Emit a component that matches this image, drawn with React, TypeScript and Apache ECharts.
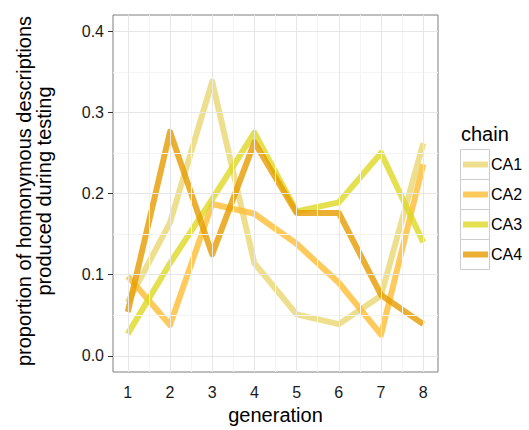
import React, { useEffect, useRef } from "react";
import * as echarts from "echarts";

const generations = [1, 2, 3, 4, 5, 6, 7, 8];
const chains = ["CA1", "CA2", "CA3", "CA4"];
const ca1 = [0.066, 0.164, 0.338, 0.114, 0.051, 0.039, 0.074, 0.262];
const ca2 = [0.098, 0.038, 0.187, 0.175, 0.138, 0.09, 0.026, 0.236];
const ca3 = [0.027, 0.114, 0.193, 0.275, 0.178, 0.189, 0.25, 0.14];
const ca4 = [0.054, 0.276, 0.125, 0.263, 0.176, 0.176, 0.075, 0.039];
const yTicks = [0, 0.1, 0.2, 0.3, 0.4];
const yMinor = [0.05, 0.15, 0.25, 0.35];
const xMinor = [1.5, 2.5, 3.5, 4.5, 5.5, 6.5, 7.5];
const colors = ["#EAD773", "#FFBD33", "#DED824", "#E69C00"];

const FONT = "Liberation Sans, Arial, sans-serif";

export default function App() {
  const ref = useRef<HTMLDivElement>(null);
  useEffect(() => {
    if (!ref.current) return;
    const chart = echarts.init(ref.current, null, { renderer: "svg" });
    const values = [ca1, ca2, ca3, ca4];
    const gridSeries = (xs: number[], ys: number[], color: string, width: number, name: string) => ({
      type: "line",
      name,
      data: [],
      z: 1,
      silent: true,
      markLine: {
        silent: true,
        symbol: "none",
        label: { show: false },
        lineStyle: { color, width, type: "solid" },
        emphasis: { disabled: true },
        data: [...xs.map((x) => ({ xAxis: x })), ...ys.map((y) => ({ yAxis: y }))],
      },
    });
    const legendTop = 149.5;
    const rowH = 30;
    const boxes = chains.map((_, i) => ({
      type: "rect",
      shape: { x: 460.5, y: legendTop + i * rowH, width: 29, height: rowH },
      style: { fill: "#fff", stroke: "#CCCCCC", lineWidth: 1 },
      z: 0,
    }));
    chart.setOption({
      animation: false,
      textStyle: { fontFamily: FONT },
      grid: { left: 113, top: 15, width: 325, height: 366, show: true, borderColor: "#7F7F7F", borderWidth: 1, backgroundColor: "transparent" },
      xAxis: {
        type: "value",
        min: 0.65,
        max: 8.35,
        name: "generation",
        nameLocation: "middle",
        nameGap: 33,
        nameTextStyle: { fontSize: 20, color: "#000", fontFamily: FONT },
        axisLine: { show: false },
        axisTick: { show: true, length: 5, lineStyle: { color: "#333" }, customValues: generations },
        axisLabel: { fontSize: 16, color: "#1a1a1a", margin: 12, customValues: generations, fontFamily: FONT },
        splitLine: { show: false },
      },
      yAxis: {
        type: "value",
        min: -0.02,
        max: 0.42,
        axisLine: { show: false },
        axisTick: { show: true, length: 5, lineStyle: { color: "#333" }, customValues: yTicks },
        axisLabel: { fontSize: 16, color: "#1a1a1a", margin: 9, customValues: yTicks, formatter: (v: number) => v.toFixed(1), fontFamily: FONT },
        splitLine: { show: false },
      },
      legend: {
        orient: "vertical",
        left: 463,
        top: legendTop,
        itemWidth: 25,
        itemHeight: 6,
        itemGap: 0,
        icon: "rect",
        data: chains,
        textStyle: { fontSize: 16, color: "#000", lineHeight: rowH, padding: [0, 0, 0, -2], fontFamily: FONT },
        padding: 0,
      },
      graphic: [
        ...boxes,
        { type: "text", left: 461, top: 124, style: { text: "chain", fontSize: 20, fill: "#000", fontFamily: FONT } },
        {
          type: "text",
          x: 34,
          y: 191,
          rotation: Math.PI / 2,
          style: {
            text: "proportion of homonymous descriptions\nproduced during testing",
            fontSize: 20,
            lineHeight: 20,
            fill: "#000",
            align: "center",
            verticalAlign: "middle",
            fontFamily: FONT,
          },
        },
      ],
      series: [
        gridSeries(xMinor, yMinor, "#F4F4F4", 1, "minorGrid"),
        gridSeries(generations, yTicks, "#E6E6E6", 1, "majorGrid"),
        ...chains.map((c, i) => ({
          type: "line",
          name: c,
          z: 2,
          data: generations.map((g, j) => [g, values[i][j]]),
          symbol: "none",
          itemStyle: { color: colors[i], opacity: 0.8 },
          lineStyle: { color: colors[i], width: 6, opacity: 0.8, cap: "butt", join: "round" },
          emphasis: { disabled: true },
        })),
      ],
    });
    return () => chart.dispose();
  }, []);
  return <div ref={ref} style={{ width: 529, height: 430, position: "absolute", left: 0, top: 0 }} />;
}
